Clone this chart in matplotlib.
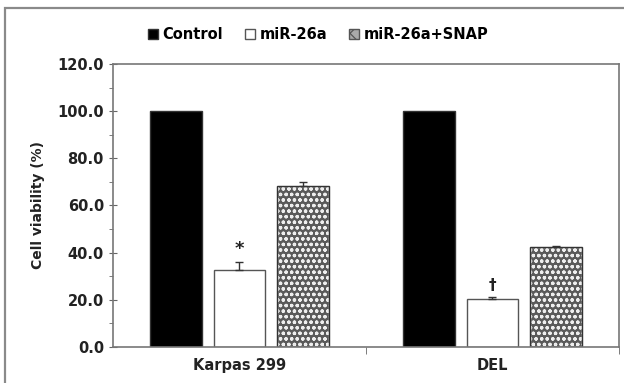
import matplotlib
matplotlib.use("Agg")
import matplotlib.pyplot as plt
from matplotlib.patches import Patch, Rectangle
import numpy as np

plt.rcParams["hatch.linewidth"] = 0.9

cell_lines = ["Karpas 299", "DEL"]
series = ["Control", "miR-26a", "miR-26a+SNAP"]
values = {
    "Control": [100.0, 100.0],
    "miR-26a": [32.8, 20.4],
    "miR-26a+SNAP": [68.2, 42.3],
}
errors = {
    "Control": [0.0, 0.0],
    "miR-26a": [3.4, 1.0],
    "miR-26a+SNAP": [1.8, 0.5],
}
marks = {"miR-26a": ["*", "\u2020"]}

styles = {
    "Control": dict(facecolor="black", edgecolor="#333333"),
    "miR-26a": dict(facecolor="white", edgecolor="#555555"),
    "miR-26a+SNAP": dict(facecolor="#5a5a5a", edgecolor="#333333", hatch="ooo"),
}

fig = plt.figure(figsize=(6.24, 3.83), dpi=100)
ax = fig.add_axes([0.181, 0.094, 0.811, 0.739])

x = np.arange(len(cell_lines))
offsets = [-0.25, 0.0, 0.25]
width = 0.205
for name, off in zip(series, offsets):
    st = styles[name]
    bars = ax.bar(x + off, values[name], width, linewidth=1.0, label=name, **st)
    if name == "miR-26a+SNAP":
        for b in bars:
            b.set_edgecolor("#eeeeee")
        ax.bar(x + off, values[name], width, facecolor="none",
               edgecolor="#333333", linewidth=1.0)
    err = np.array(errors[name])
    if err.any():
        ax.errorbar(x + off, values[name],
                    yerr=[np.zeros_like(err), err],
                    fmt="none", ecolor="#333333", elinewidth=1.0,
                    capsize=3, capthick=1.0)
    if name in marks:
        for xi, v, e, m in zip(x + off, values[name], err, marks[name]):
            ax.text(xi, v + e + 1.5, m, ha="center", va="bottom",
                    fontsize=13 if m == "*" else 11, fontweight="bold",
                    color="#222222")

fs = 10.5
ax.set_xlim(-0.5, 1.5)
ax.set_ylim(0, 120)
ax.set_yticks(np.arange(0, 121, 20))
ax.set_yticks(np.arange(0, 121, 10), minor=True)
ax.set_yticklabels([f"{v:.1f}" for v in np.arange(0, 121, 20)],
                   fontsize=fs, fontweight="bold", color="#222222")
ax.set_xticks(x)
ax.set_xticklabels(cell_lines, fontsize=fs, fontweight="bold", color="#222222")
ax.set_xticks([0.5, 1.5], minor=True)
ax.tick_params(axis="x", which="major", length=0, pad=8)
ax.tick_params(axis="x", which="minor", length=5, direction="out", color="#666666")
ax.tick_params(axis="y", which="major", length=6, direction="inout", color="#666666")
ax.tick_params(axis="y", which="minor", length=3, direction="out", color="#666666")
ax.set_ylabel("Cell viability (%)", fontsize=10, fontweight="bold",
              color="#222222", labelpad=9)
for s in ax.spines.values():
    s.set_color("#777777")
    s.set_linewidth(1.2)

handles = [Patch(facecolor="black", edgecolor="#333333"),
           Patch(facecolor="white", edgecolor="#555555"),
           Patch(facecolor="#aaaaaa", edgecolor="#555555", hatch="xx")]
fig.legend(handles, series, loc="center", bbox_to_anchor=(0.51, 0.909),
           ncol=3, frameon=False, handlelength=0.7, handleheight=0.7,
           handletextpad=0.3, columnspacing=1.5,
           prop=dict(size=fs, weight="bold"))

# outer frame, cut at the right and bottom edges
fig.add_artist(Rectangle((5 / 624, -0.1), 1.2, 1 - 8 / 383 + 0.1,
                         transform=fig.transFigure, fill=False,
                         edgecolor="#8a8a8a", linewidth=1.6))

fig.savefig("out.png", dpi=100)
